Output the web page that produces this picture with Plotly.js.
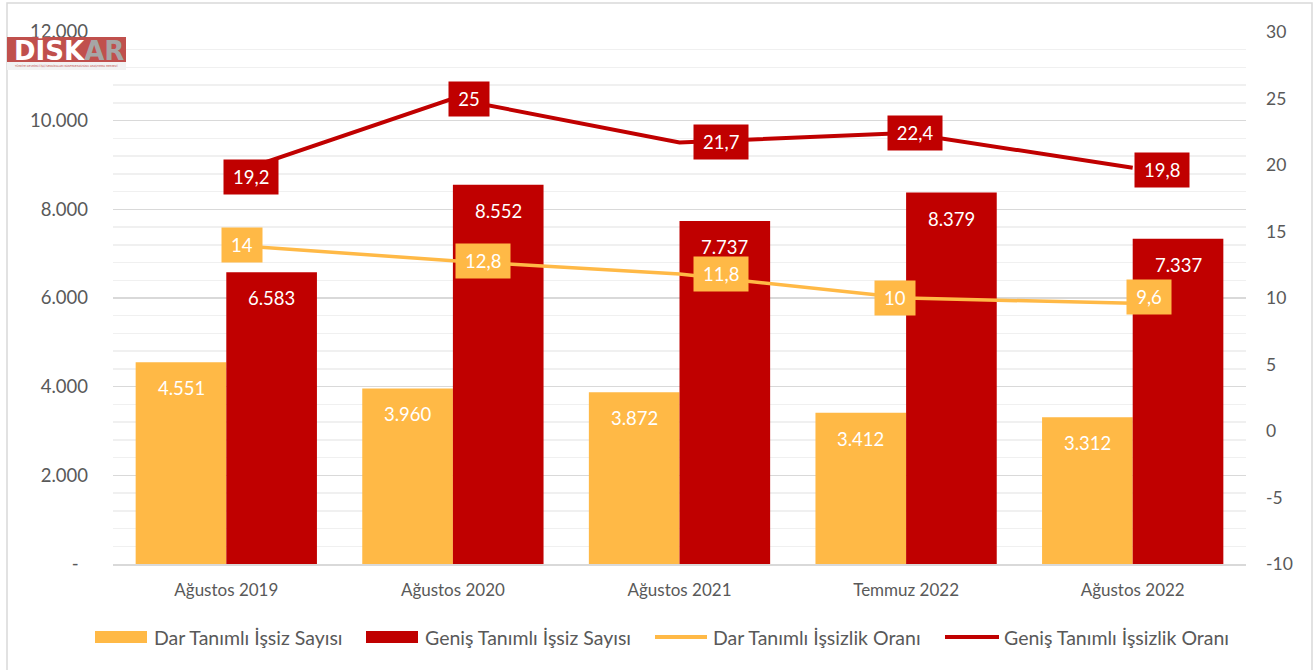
<!DOCTYPE html>
<html>
<head>
<meta charset="utf-8">
<script src="https://cdn.plot.ly/plotly-3.0.1.min.js"></script>
<style>
  html, body { margin: 0; padding: 0; background: #ffffff; }
  #chart { width: 1314px; height: 670px; }
</style>
</head>
<body>
<div id="chart"></div>
<script>
// ---------- DATA ----------
const categories = ['Ağustos 2019', 'Ağustos 2020', 'Ağustos 2021', 'Temmuz 2022', 'Ağustos 2022'];
const darSayi   = [4551, 3960, 3872, 3412, 3312];
const genisSayi = [6583, 8552, 7737, 8379, 7337];
const darOran   = [14, 12.8, 11.8, 10, 9.6];
const genisOran = [19.2, 25, 21.7, 22.4, 19.8];

const seriesNames = ['Dar Tanımlı İşsiz Sayısı', 'Geniş Tanımlı İşsiz Sayısı',
                     'Dar Tanımlı İşsizlik Oranı', 'Geniş Tanımlı İşsizlik Oranı'];
const leftTickVals  = [0, 2000, 4000, 6000, 8000, 10000, 12000];
const leftTickText  = ['-\u00a0\u00a0', '2.000', '4.000', '6.000', '8.000', '10.000', '12.000'];
const rightTickVals = [-10, -5, 0, 5, 10, 15, 20, 25, 30];
const rightTickText = ['-10', '-5', '0', '5', '10', '15', '20', '25', '30'];

// ---------- STYLE ----------
const YELLOW = '#FFB946';
const RED = '#C00000';
const TEXT = '#595959';
const FONT = 'Lato, "Open Sans", sans-serif';

// label offsets (pixels, right / down) for rate labels
const genisLabelOffsets = [[25, 1.5], [16, 0], [41, 0], [9, 0], [29, 2]];
const darLabelOffsets   = [[16, 0], [30, 0], [41, 0], [-11, 0], [16, -6]];

// plot geometry (pixels)
const W = 1314, H = 670;
const PL = 113, PR = 1246, PT = 32, PB = 564;
const fx = px => (px - PL) / (PR - PL);
const fy = py => (PB - py) / (PB - PT);

const fmtInt = v => String(v).replace(/\B(?=(\d{3})+(?!\d))/g, '.');
const fmtDec = v => String(v).replace('.', ',');
const boxW = s => 19 + s.split('').reduce((a, c) => a + (/\d/.test(c) ? 10.4 : 4.2), 0);

const traces = [
  { type: 'bar', name: seriesNames[0], x: categories, y: darSayi, marker: { color: YELLOW }, hoverinfo: 'skip', yaxis: 'y' },
  { type: 'bar', name: seriesNames[1], x: categories, y: genisSayi, marker: { color: RED }, hoverinfo: 'skip', yaxis: 'y' },
  { type: 'scatter', mode: 'lines', name: seriesNames[2], x: categories, y: darOran, yaxis: 'y2',
    line: { color: YELLOW, width: 3.5 }, hoverinfo: 'skip' },
  { type: 'scatter', mode: 'lines', name: seriesNames[3], x: categories, y: genisOran, yaxis: 'y2',
    line: { color: RED, width: 4 }, hoverinfo: 'skip' }
];

const annotations = [];
// bar value labels
categories.forEach((c, i) => {
  annotations.push({ x: c, y: darSayi[i], xref: 'x', yref: 'y', text: fmtInt(darSayi[i]),
    showarrow: false, xanchor: 'center', yanchor: 'middle', xshift: -45.3, yshift: -26,
    font: { family: FONT, size: 18.5, color: '#ffffff' } });
  annotations.push({ x: c, y: genisSayi[i], xref: 'x', yref: 'y', text: fmtInt(genisSayi[i]),
    showarrow: false, xanchor: 'center', yanchor: 'middle', xshift: 45.3, yshift: -26,
    font: { family: FONT, size: 18.5, color: '#ffffff' } });
});
// rate labels
categories.forEach((c, i) => {
  const tD = fmtDec(darOran[i]);
  annotations.push({ x: c, y: darOran[i], xref: 'x', yref: 'y2', text: tD,
    showarrow: false, xanchor: 'center', yanchor: 'middle',
    xshift: darLabelOffsets[i][0], yshift: -darLabelOffsets[i][1],
    width: boxW(tD), height: 34, borderpad: 0, bgcolor: YELLOW,
    font: { family: FONT, size: 18.5, color: '#ffffff' } });
  const tG = fmtDec(genisOran[i]);
  annotations.push({ x: c, y: genisOran[i], xref: 'x', yref: 'y2', text: tG,
    showarrow: false, xanchor: 'center', yanchor: 'middle',
    xshift: genisLabelOffsets[i][0], yshift: -genisLabelOffsets[i][1],
    width: boxW(tG), height: 34, borderpad: 0, bgcolor: RED,
    font: { family: FONT, size: 18.5, color: '#ffffff' } });
});

// manual legend
const LEG_Y = 637;
const legendItems = [
  { kind: 'rect', color: YELLOW, x0: 95, x1: 147, tx: 152, text: seriesNames[0] },
  { kind: 'rect', color: RED, x0: 366, x1: 418, tx: 423, text: seriesNames[1] },
  { kind: 'line', color: YELLOW, x0: 655, x1: 707, tx: 711, text: seriesNames[2] },
  { kind: 'line', color: RED, x0: 945, x1: 999, tx: 1002, text: seriesNames[3] }
];
const shapes = [];
// outer chart border
shapes.push({ type: 'rect', xref: 'paper', yref: 'paper', x0: fx(7), x1: fx(1312), y0: fy(3), y1: fy(672),
  line: { color: '#d9d9d9', width: 1.5 }, fillcolor: 'rgba(0,0,0,0)', layer: 'above' });
legendItems.forEach(it => {
  if (it.kind === 'rect') {
    shapes.push({ type: 'rect', xref: 'paper', yref: 'paper', x0: fx(it.x0), x1: fx(it.x1),
      y0: fy(LEG_Y + 6), y1: fy(LEG_Y - 6), fillcolor: it.color, line: { width: 0 }, layer: 'above' });
  } else {
    shapes.push({ type: 'line', xref: 'paper', yref: 'paper', x0: fx(it.x0), x1: fx(it.x1),
      y0: fy(LEG_Y), y1: fy(LEG_Y), line: { color: it.color, width: 4 }, layer: 'above' });
  }
  annotations.push({ xref: 'paper', yref: 'paper', x: fx(it.tx), y: fy(LEG_Y), text: it.text,
    showarrow: false, xanchor: 'left', yanchor: 'middle',
    font: { family: FONT, size: 19.5, color: TEXT } });
});

// logo
shapes.push({ type: 'rect', xref: 'paper', yref: 'paper', x0: fx(7), x1: fx(126), y0: fy(62), y1: fy(37),
  fillcolor: '#C0504D', line: { width: 0 }, layer: 'above' });
shapes.push({ type: 'rect', xref: 'paper', yref: 'paper', x0: fx(7), x1: fx(126), y0: fy(70), y1: fy(62),
  fillcolor: '#f2f2f2', line: { width: 0 }, layer: 'above' });
annotations.push({ xref: 'paper', yref: 'paper', x: fx(12), y: fy(50.5), xanchor: 'left', yanchor: 'middle',
  showarrow: false, text: '<b>DİSK</b><span style="color:#a6a6a6"><b>AR</b></span>',
  font: { family: '"DejaVu Sans", sans-serif', size: 26, color: '#ffffff' } });
annotations.push({ xref: 'paper', yref: 'paper', x: fx(66), y: fy(66), xanchor: 'center', yanchor: 'middle',
  showarrow: false, text: 'TÜRKİYE DEVRİMCİ İŞÇİ SENDİKALARI KONFEDERASYONU ARAŞTIRMA MERKEZİ',
  font: { family: '"DejaVu Sans Condensed", "DejaVu Sans", sans-serif', size: 2.9, color: '#C0504D' } });

const layout = {
  width: W, height: H, autosize: false,
  margin: { l: PL, r: W - PR, t: PT, b: H - PB, pad: 0 },
  paper_bgcolor: '#ffffff', plot_bgcolor: '#ffffff',
  showlegend: false,
  barmode: 'group', bargap: 0.2, bargroupgap: 0,
  font: { family: FONT, color: TEXT, size: 17 },
  xaxis: {
    type: 'category', showgrid: false, zeroline: false,
    showline: true, linecolor: '#d9d9d9', linewidth: 1.5,
    ticks: '', ticklabelstandoff: 10,
    tickfont: { family: FONT, size: 17, color: TEXT }
  },
  yaxis: {
    range: [0, 12000], tickmode: 'array', tickvals: leftTickVals, ticktext: leftTickText,
    showgrid: true, gridcolor: '#d9d9d9', gridwidth: 1.5, zeroline: false,
    showline: false, ticks: '', ticklabelstandoff: 24,
    tickfont: { family: FONT, size: 18.5, color: TEXT },
    minor: { tickmode: 'linear', tick0: 0, dtick: 400, showgrid: true, gridcolor: '#f0f0f0', gridwidth: 1.5, ticks: '' }
  },
  yaxis2: {
    range: [-10, 30], overlaying: 'y', side: 'right', tickmode: 'array',
    tickvals: rightTickVals, ticktext: rightTickText,
    showgrid: false, zeroline: false, showline: false, ticks: '', ticklabelstandoff: 19,
    tickfont: { family: FONT, size: 17.5, color: TEXT }
  },
  annotations: annotations,
  shapes: shapes
};

Plotly.newPlot('chart', traces, layout, { displayModeBar: false, staticPlot: true });
</script>
</body>
</html>
